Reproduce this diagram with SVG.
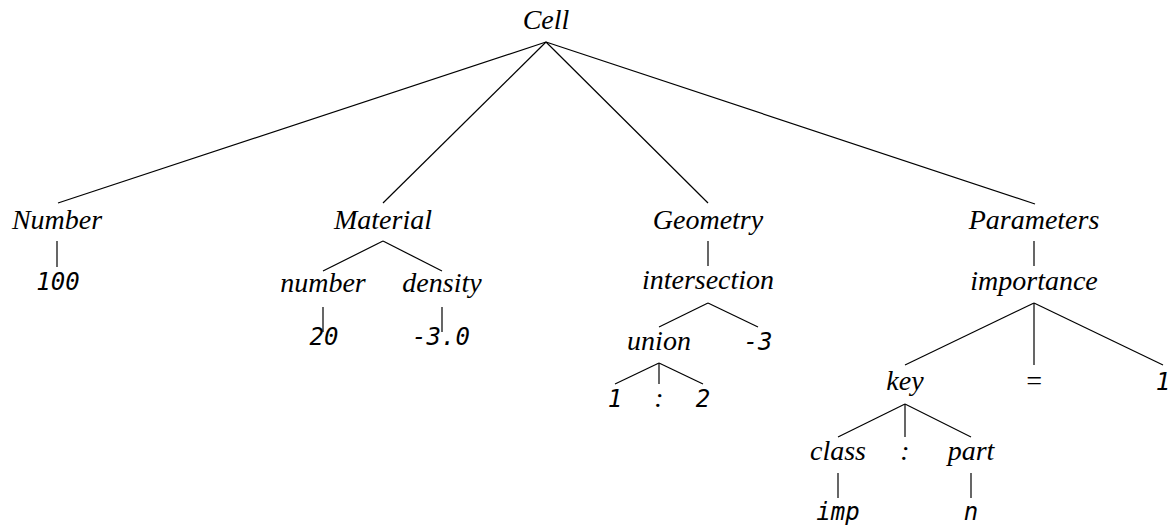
<svg xmlns="http://www.w3.org/2000/svg" width="1171" height="529" viewBox="0 0 1171 529">
<style>
.n{font-family:"Liberation Serif","Times New Roman",serif;font-style:italic;font-size:28px;fill:#000;text-anchor:middle}
.t{font-family:"DejaVu Sans Mono","Liberation Mono",monospace;font-style:oblique;font-size:24px;fill:#000;text-anchor:middle}
.e{stroke:#000;stroke-width:1.2;fill:none}
</style>
<rect width="1171" height="529" fill="#fff"/>
<g id="connectors" class="e">
<line x1="546" y1="42" x2="58" y2="203"/>
<line x1="546" y1="42" x2="383" y2="203"/>
<line x1="546" y1="42" x2="708" y2="203"/>
<line x1="546" y1="42" x2="1035" y2="204"/>
<line x1="57" y1="241" x2="57" y2="267"/>
<line x1="383" y1="241" x2="323" y2="271"/>
<line x1="383" y1="241" x2="442" y2="271"/>
<line x1="323" y1="307" x2="323" y2="332"/>
<line x1="442" y1="307" x2="442" y2="332"/>
<line x1="708" y1="241" x2="708" y2="266"/>
<line x1="708" y1="303" x2="659" y2="327"/>
<line x1="708" y1="303" x2="758" y2="327"/>
<line x1="659" y1="363" x2="615" y2="384"/>
<line x1="659" y1="363" x2="659" y2="384"/>
<line x1="659" y1="363" x2="703" y2="384"/>
<line x1="1034" y1="241" x2="1034" y2="266"/>
<line x1="1034" y1="303" x2="905" y2="365"/>
<line x1="1034" y1="303" x2="1034" y2="365"/>
<line x1="1034" y1="303" x2="1163" y2="365"/>
<line x1="905" y1="404" x2="838" y2="437"/>
<line x1="905" y1="404" x2="905" y2="437"/>
<line x1="905" y1="404" x2="971" y2="437"/>
<line x1="838" y1="473" x2="838" y2="498"/>
<line x1="971" y1="473" x2="971" y2="498"/>
</g>
<g id="cell"><text class="n" x="546" y="29">Cell</text></g>
<g id="number"><text class="n" x="57" y="229">Number</text></g>
<g id="n100"><text class="t" x="58" y="290">100</text></g>
<g id="material"><text class="n" x="383" y="229">Material</text></g>
<g id="mnumber"><text class="n" x="323" y="292">number</text></g>
<g id="density"><text class="n" x="442" y="292">density</text></g>
<g id="n20"><text class="t" x="324" y="345">20</text></g>
<g id="dens"><text class="t" x="441" y="345">-3.0</text></g>
<g id="geometry"><text class="n" x="708" y="229">Geometry</text></g>
<g id="intersection"><text class="n" x="708" y="289">intersection</text></g>
<g id="union"><text class="n" x="659" y="350">union</text></g>
<g id="m3"><text class="t" x="758" y="350">-3</text></g>
<g id="u1"><text class="t" x="615" y="407">1</text></g>
<g id="ucolon"><text class="n" x="659" y="407">:</text></g>
<g id="u2"><text class="t" x="703" y="407">2</text></g>
<g id="parameters"><text class="n" x="1034" y="229">Parameters</text></g>
<g id="importance"><text class="n" x="1034" y="290">importance</text></g>
<g id="key"><text class="n" x="905" y="390">key</text></g>
<g id="eq"><text class="n" x="1034" y="390">=</text></g>
<g id="one"><text class="t" x="1163" y="390">1</text></g>
<g id="class"><text class="n" x="838" y="460">class</text></g>
<g id="kcolon"><text class="n" x="905" y="460">:</text></g>
<g id="part"><text class="n" x="971" y="460">part</text></g>
<g id="imp"><text class="t" x="838" y="520">imp</text></g>
<g id="nn"><text class="t" x="971" y="520">n</text></g>
</svg>
